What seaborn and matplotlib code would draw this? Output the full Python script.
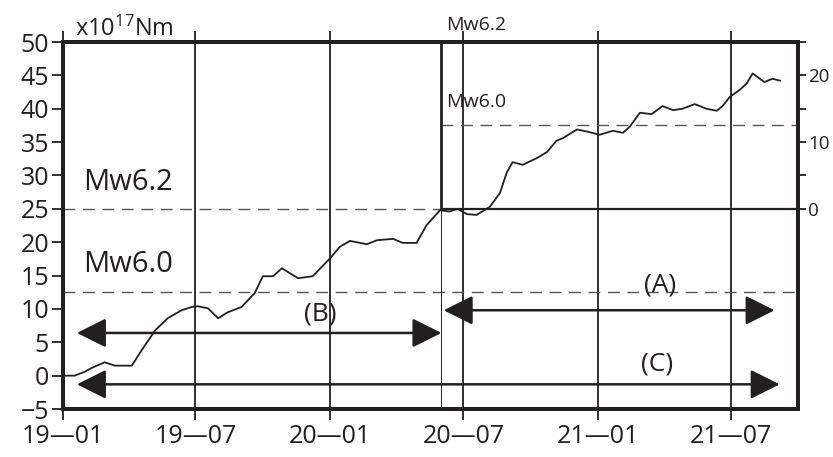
import pandas as pd
import matplotlib
matplotlib.use("Agg")
import matplotlib.pyplot as plt
import matplotlib.dates as mdates
import seaborn as sns

# === 1. Werte ===
dates = [
    "2019-01-01", "2019-01-17", "2019-01-31", "2019-02-10", "2019-02-27",
    "2019-03-13", "2019-04-05", "2019-04-19", "2019-05-07", "2019-05-24",
    "2019-06-12", "2019-06-26", "2019-07-04", "2019-07-18", "2019-08-01",
    "2019-08-14", "2019-09-02", "2019-09-20", "2019-10-01", "2019-10-15",
    "2019-10-27", "2019-11-18", "2019-12-08", "2020-01-01", "2020-01-14",
    "2020-01-28", "2020-02-20", "2020-03-05", "2020-03-27", "2020-04-09",
    "2020-04-28", "2020-05-12", "2020-05-30", "2020-06-12", "2020-06-23",
    "2020-07-06", "2020-07-19", "2020-08-06", "2020-08-20", "2020-08-29",
    "2020-09-06", "2020-09-20", "2020-10-09", "2020-10-23", "2020-11-05",
    "2020-11-14", "2020-12-03", "2020-12-20", "2021-01-03", "2021-01-21",
    "2021-02-04", "2021-02-13", "2021-02-27", "2021-03-15", "2021-03-30",
    "2021-04-13", "2021-04-26", "2021-05-13", "2021-05-29", "2021-06-12",
    "2021-06-20", "2021-06-30", "2021-07-13", "2021-07-23", "2021-07-31",
    "2021-08-16", "2021-08-27", "2021-09-07",
]
moment = [
    0.0, 0.0, 0.6, 1.2, 2.0,
    1.5, 1.5, 3.9, 6.8, 8.6,
    9.8, 10.3, 10.4, 10.1, 8.6,
    9.5, 10.3, 12.4, 14.9, 14.9,
    16.1, 14.6, 14.9, 17.6, 19.3,
    20.2, 19.7, 20.3, 20.5, 19.9,
    19.9, 22.6, 24.8, 24.6, 25.0,
    24.2, 24.1, 25.3, 27.4, 30.4,
    32.0, 31.6, 32.6, 33.5, 35.2,
    35.6, 36.9, 36.5, 36.1, 36.7,
    36.4, 37.3, 39.4, 39.2, 40.4,
    39.8, 40.0, 40.7, 40.0, 39.7,
    40.4, 41.8, 42.8, 43.8, 45.3,
    44.0, 44.5, 44.2,
]

event_date = "2020-05-31"
mw62 = 25.0
mw60 = 12.5

tick_dates = ["2019-01-01", "2019-07-01", "2020-01-01", "2020-07-01", "2021-01-01", "2021-07-01"]
tick_labels = ["19—01", "19—07", "20—01", "20—07", "21—01", "21—07"]

# Zeitraeume (A), (B), (C): Start, Ende, Hoehe
span_a = ("2020-06-04", "2021-08-30", 9.8)
span_b = ("2019-01-20", "2020-06-01", 6.4)
span_c = ("2019-01-20", "2021-09-06", -1.3)

df = pd.DataFrame({"Datum": pd.to_datetime(dates), "M0": moment})

# === 2. Stil ===
sns.set_theme(style="white")
plt.rcParams["font.family"] = ["Open Sans", "DejaVu Sans"]
plt.rcParams["mathtext.fontset"] = "custom"
plt.rcParams["mathtext.rm"] = "Open Sans"
plt.rcParams["mathtext.default"] = "regular"
ink = "#231f20"
grey = "#555555"

fig = plt.figure(figsize=(8.33, 4.57), dpi=100)
ax = fig.add_axes([0.0756, 0.105, 0.8824, 0.803])

# === 3. Kurve ===
sns.lineplot(data=df, x="Datum", y="M0", color=ink, lw=1.3, ax=ax, zorder=5)

x0 = pd.Timestamp("2019-01-01")
x1 = pd.Timestamp("2021-10-01")
ev = mdates.date2num(pd.Timestamp(event_date))
ax.set_xlim(x0, x1)
ax.set_ylim(-5, 50)

# Hilfslinien
ax.axhline(mw62, xmax=(ev - mdates.date2num(x0)) / (mdates.date2num(x1) - mdates.date2num(x0)),
           color=grey, lw=1.0, ls=(0, (8.5, 5.5)))
ax.axhline(mw60, color=grey, lw=1.0, ls=(0, (8.5, 5.5)))
ax.plot([ev, mdates.date2num(x1)], [mw62 + mw60] * 2, color=grey, lw=1.0, ls=(0, (8.5, 5.5)))
ax.plot([ev, mdates.date2num(x1)], [mw62] * 2, color=ink, lw=1.6)
ax.plot([ev, ev], [mw62, 50], color=ink, lw=2.0)
ax.plot([ev, ev], [-5, mw62], color=ink, lw=0.7)

# vertikale Gitterlinien
for d in tick_dates[1:]:
    ax.axvline(pd.Timestamp(d), color=ink, lw=1.3, zorder=1)

ax.set_xticks(pd.to_datetime(tick_dates))
ax.set_xticklabels(tick_labels)
ax.set_yticks(range(-5, 51, 5))
ax.set_xlabel("")
ax.set_ylabel("")
ax.tick_params(axis="x", which="both", top=True, bottom=True, direction="out",
               length=8, width=1.3, color=ink, labelsize=18, labelcolor=ink, pad=3)
ax.tick_params(axis="y", left=True, direction="out", length=8, width=1.3,
               color=ink, labelsize=18, labelcolor=ink, pad=2)
for s in ax.spines.values():
    s.set_linewidth(2.8)
    s.set_color(ink)

# rechte Achse (relativ zu Mw6.2)
ax2 = ax.twinx()
ax2.set_ylim(-5 - mw62, 50 - mw62)
ax2.set_yticks([0, 5, 10, 15, 20, 25])
ax2.set_yticklabels(["0", "", "10", "", "20", ""])
ax2.tick_params(axis="y", right=True, direction="out", length=6, width=1.3,
                color=ink, labelsize=13.5, labelcolor=ink, pad=1.5)
ax2.grid(False)
for s in ax2.spines.values():
    s.set_linewidth(2.8)
    s.set_color(ink)

# Pfeile
def span_arrow(span, label_x, label_y, label):
    a, b, y = span
    ax.annotate("", xy=(mdates.date2num(pd.Timestamp(b)), y),
                xytext=(mdates.date2num(pd.Timestamp(a)), y),
                arrowprops=dict(arrowstyle="<|-|>,head_length=0.9,head_width=0.45",
                                mutation_scale=20, lw=1.8, color=ink,
                                shrinkA=0, shrinkB=0), zorder=6)
    ax.text(pd.Timestamp(label_x), label_y, label, fontsize=19, color=ink,
            ha="center", va="center", zorder=7)

span_arrow(span_b, "2019-12-18", 9.2, "(B)")
span_arrow(span_a, "2021-03-26", 13.6, "(A)")
span_arrow(span_c, "2021-03-22", 1.7, "(C)")

# Beschriftungen
ax.text(0.016, 1.0, r"x10$^{17}$Nm", transform=ax.transAxes, fontsize=17,
        color=ink, ha="left", va="bottom")
ax.text(pd.Timestamp("2019-01-28"), 29.0, "Mw6.2", fontsize=21, color=ink, va="center")
ax.text(pd.Timestamp("2019-01-28"), 16.6, "Mw6.0", fontsize=21, color=ink, va="center")
ax.text(pd.Timestamp("2020-06-08"), 52.5, "Mw6.2", fontsize=14, color=ink,
        va="center", clip_on=False)
ax.text(pd.Timestamp("2020-06-08"), 41.0, "Mw6.0", fontsize=14, color=ink, va="center")

fig.savefig("out.png", dpi=100)
